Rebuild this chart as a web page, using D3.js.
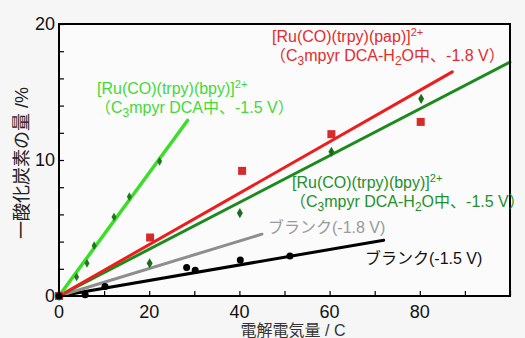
<!DOCTYPE html>
<html>
<head>
<meta charset="utf-8">
<script src="https://cdn.jsdelivr.net/npm/d3@7"></script>
<style>
  body { margin: 0; background: #f6f6f6; }
  svg text { font-family: "Liberation Sans", Arial, "Noto Sans CJK JP", sans-serif; }
</style>
</head>
<body>
<script>
// values
const limeX = [0, 3.9, 6.2, 7.8, 12.2, 15.6, 22.3];
const limeY = [0, 1.4, 2.4, 3.7, 5.8, 7.3, 9.9];
const redX = [0, 20.2, 40.6, 60.4, 80.2];
const redY = [0, 4.3, 9.2, 11.9, 12.8];
const greenX = [0, 20.1, 40.1, 60.4, 80.3];
const greenY = [0, 2.4, 6.1, 10.6, 14.5];
const blackX = [0, 5.8, 10.2, 28.3, 30.2, 40.2, 51.2];
const blackY = [0, 0.1, 0.7, 2.1, 1.9, 2.65, 2.95];

// fitted lines: slope and last x
const fitNames = ["blank15", "blank18", "green", "red", "lime"];
const fitSlopes = [0.057, 0.101, 0.172, 0.189, 0.453];
const fitEnds = [72, 45, 100, 87.2, 28.5];

const xTicks = [0, 20, 40, 60, 80];
const yTicks = [0, 10, 20];

const margin = {top: 24, right: 15, bottom: 42, left: 59},
    width = 525 - margin.left - margin.right,
    height = 338 - margin.top - margin.bottom;

const colors = {
    lime: "#3cde2a",
    red: "#ee1c1c",
    green: "#1d8a1d",
    blank18: "#8e8e8e",
    blank15: "#000000"
};

let svg = d3.select("body")
  .append("svg")
    .attr("width", 525)
    .attr("height", 338);

let g = svg.append("g")
    .attr("transform", "translate(" + margin.left + "," + margin.top + ")");

let xScale = d3.scaleLinear().domain([0, 100]).range([0, width]);
let yScale = d3.scaleLinear().domain([0, 20]).range([height, 0]);

g.append("rect")
    .attr("width", width)
    .attr("height", height)
    .attr("fill", "#fbfbfb");

// fit lines
fitNames.forEach((n, i) => {
    g.append("line")
      .attr("x1", xScale(0))
      .attr("y1", yScale(0))
      .attr("x2", xScale(fitEnds[i]))
      .attr("y2", yScale(fitSlopes[i] * fitEnds[i]))
      .attr("stroke", colors[n])
      .attr("stroke-width", n == "lime" ? 3.5 : 3)
      .attr("stroke-linecap", "round");
});

const diamond = d3.symbol().type(d3.symbolDiamond);

// points
g.selectAll(".lime").data(limeX).enter().append("path")
    .attr("d", diamond.size(22))
    .attr("transform", (d, i) => "translate(" + xScale(d) + "," + yScale(limeY[i]) + ")")
    .attr("fill", "#1e7a1e");

g.selectAll(".grn").data(greenX).enter().append("path")
    .attr("d", diamond.size(30))
    .attr("transform", (d, i) => "translate(" + xScale(d) + "," + yScale(greenY[i]) + ")")
    .attr("fill", "#1a6e1a");

g.selectAll(".red").data(redX).enter().append("rect")
    .attr("x", d => xScale(d) - 4)
    .attr("y", (d, i) => yScale(redY[i]) - 4)
    .attr("width", 8)
    .attr("height", 8)
    .attr("fill", "#d42b2b");

g.selectAll(".blk").data(blackX).enter().append("circle")
    .attr("cx", d => xScale(d))
    .attr("cy", (d, i) => yScale(blackY[i]))
    .attr("r", 3.5)
    .attr("fill", "#000");

// axes with inside ticks
let xAxis = g.append("g")
    .attr("transform", "translate(0," + height + ")")
    .call(d3.axisBottom(xScale).tickValues(d3.range(0, 101, 10)).tickSize(-5).tickFormat(""));
xAxis.select(".domain").remove();
let yAxis = g.append("g")
    .call(d3.axisLeft(yScale).tickValues(d3.range(0, 21, 2)).tickSize(-5).tickFormat(""));
yAxis.select(".domain").remove();
g.selectAll(".tick line").attr("stroke", "#000").attr("stroke-width", 1.2);

g.append("rect")
    .attr("width", width)
    .attr("height", height)
    .attr("fill", "none")
    .attr("stroke", "#000")
    .attr("stroke-width", 2);

// tick labels
g.selectAll(".xl").data(xTicks).enter().append("text")
    .attr("x", d => xScale(d))
    .attr("y", height + 22)
    .attr("text-anchor", "middle")
    .attr("font-size", 18)
    .attr("fill", "#111")
    .text(d => d);

g.selectAll(".yl").data(yTicks).enter().append("text")
    .attr("x", -4)
    .attr("y", d => yScale(d) + 6)
    .attr("text-anchor", "end")
    .attr("font-size", 18)
    .attr("fill", "#111")
    .text(d => d);

// axis titles
svg.append("text")
    .attr("x", 293)
    .attr("y", 336)
    .attr("text-anchor", "middle")
    .attr("font-size", 16)
    .attr("fill", "#333")
    .text("電解電気量 / C");

svg.append("text")
    .attr("transform", "translate(28,163) rotate(-90)")
    .attr("text-anchor", "middle")
    .attr("font-size", 18)
    .attr("fill", "#222")
    .text("一酸化炭素の量 /%");

// annotations
function label(x, y, color, line1, line2) {
    let t1 = svg.append("text").attr("x", x).attr("y", y)
        .attr("font-size", 16).attr("fill", color);
    t1.append("tspan").text(line1);
    t1.append("tspan").attr("font-size", 11).attr("dy", -6).text("2+");
    if (line2) {
        let t2 = svg.append("text").attr("x", x - 2).attr("y", y + 19)
            .attr("font-size", 16).attr("fill", color);
        line2.forEach(p => {
            if (p.sub) t2.append("tspan").attr("font-size", 12).attr("dy", 4).text(p.sub);
            else t2.append("tspan").attr("dy", p.up ? -4 : 0).text(p.t);
        });
    }
}

label(272, 42, "#e42c2c", "[Ru(CO)(trpy)(pap)]",
    [{t: "（C"}, {sub: "3"}, {t: "mpyr DCA-H", up: true}, {sub: "2"}, {t: "O中、-1.8 V）", up: true}]);
label(97, 94, "#45d83a", "[Ru(CO)(trpy)(bpy)]",
    [{t: "（C"}, {sub: "3"}, {t: "mpyr DCA中、-1.5 V）", up: true}]);
label(292, 188, "#23902a", "[Ru(CO)(trpy)(bpy)]",
    [{t: "（C"}, {sub: "3"}, {t: "mpyr DCA-H", up: true}, {sub: "2"}, {t: "O中、-1.5 V）", up: true}]);

svg.append("text").attr("x", 268).attr("y", 233)
    .attr("font-size", 16).attr("fill", "#999")
    .text("ブランク(-1.8 V)");
svg.append("text").attr("x", 365).attr("y", 264)
    .attr("font-size", 16).attr("fill", "#111")
    .text("ブランク(-1.5 V)");
</script>
</body>
</html>
